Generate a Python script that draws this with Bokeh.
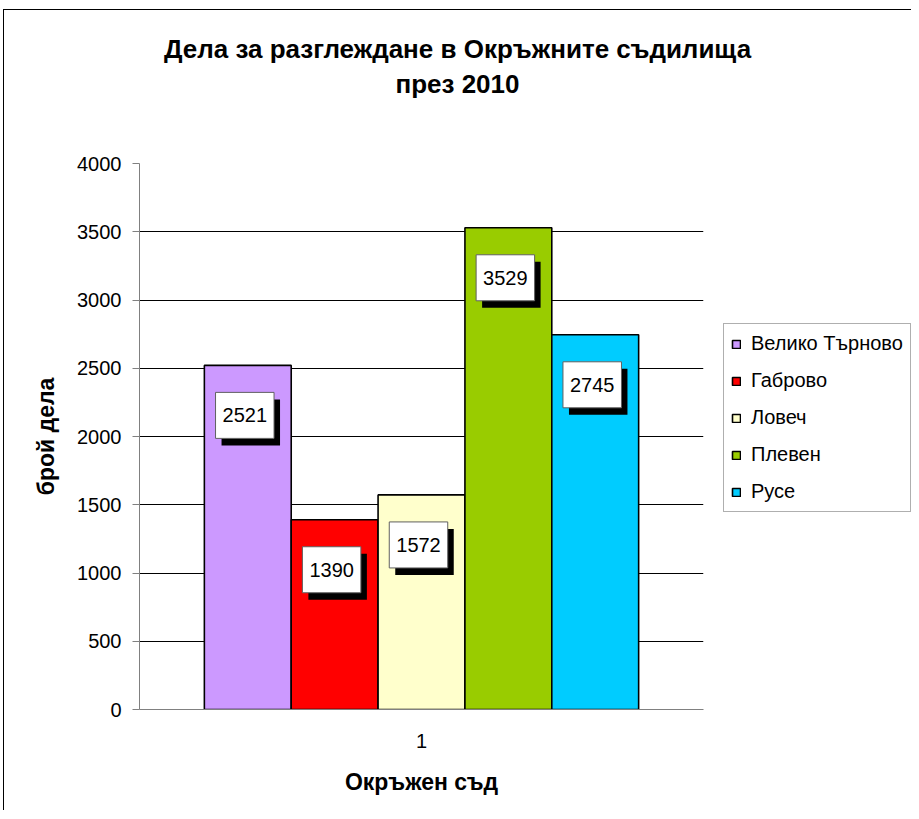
from bokeh.plotting import figure
from bokeh.layouts import row, column
from bokeh.models import (ColumnDataSource, FactorRange, Range1d, CategoricalAxis,
                          FixedTicker, Legend, LegendItem, Div)
from bokeh.transform import dodge
from bokeh.core.properties import value
from bokeh.embed import file_html
from bokeh.resources import INLINE

# ---- data ----
category = ["1"]
courts = ["Велико Търново", "Габрово", "Ловеч", "Плевен", "Русе"]
cases = [2521, 1390, 1572, 3529, 2745]
colors = ["#CC99FF", "#FF0000", "#FFFFCC", "#99CC00", "#00CCFF"]
y_ticks = [0, 500, 1000, 1500, 2000, 2500, 3000, 3500, 4000]
title_line1 = "Дела за разглеждане в Окръжните съдилища"
title_line2 = "през 2010"
x_title = "Окръжен съд"
y_title = "брой дела"

FONT = "Liberation Sans"
W, H = 714, 662          # chart part
WL = 193                 # legend part
HT = 138                 # title band

# ---- title band ----
title_div = Div(
    text=(f'<div style="width:{W + WL}px; padding-top:22px; text-align:center;'
          ' font-family:\'Liberation Sans\'; font-weight:bold; font-size:26px;'
          ' line-height:35px; color:black;">'
          f'{title_line1}<br>{title_line2}</div>'),
    width=W + WL, height=HT, margin=0)

# ---- chart ----
p = figure(width=W, height=H, x_range=FactorRange(factors=category, range_padding=0),
           y_range=Range1d(0, 4000), output_backend="svg", toolbar_location=None,
           x_axis_location=None, min_border_left=135, min_border_right=15,
           min_border_top=15, min_border_bottom=101)
p.outline_line_color = None
p.background_fill_color = "white"
p.border_fill_color = "white"

yax = p.yaxis[0]
yax.ticker = FixedTicker(ticks=y_ticks)
yax.axis_line_color = "#808080"
yax.major_tick_line_color = "#808080"
yax.major_tick_in = 0
yax.major_tick_out = 7
yax.minor_tick_line_color = None
yax.major_label_text_font = FONT
yax.major_label_text_font_size = "20px"
yax.major_label_text_color = "black"
yax.major_label_standoff = 11
yax.axis_label = y_title
yax.axis_label_text_font = FONT
yax.axis_label_text_font_size = "23px"
yax.axis_label_text_font_style = "bold"
yax.axis_label_text_color = "black"
yax.axis_label_standoff = 15

p.ygrid.ticker = FixedTicker(ticks=y_ticks[1:-1])
p.ygrid.grid_line_color = "black"
p.xgrid.visible = False

# x axes: edge ticks (categorical range whose two factors sit on the frame edges) + category label
p.extra_x_ranges = {"edges": FactorRange(factors=["L", "R"], range_padding=-0.5,
                                         range_padding_units="absolute")}
edge_axis = CategoricalAxis(x_range_name="edges",
                            axis_line_color="#808080", major_tick_line_color="#808080",
                            major_tick_in=0, major_tick_out=6,
                            major_label_text_font_size="0px", major_label_standoff=0)
cat_axis = CategoricalAxis(axis_line_color=None, major_tick_line_color=None,
                           major_tick_in=0, major_tick_out=0,
                           major_label_text_font=FONT, major_label_text_font_size="20px",
                           major_label_text_color="black",
                           major_label_standoff=24, axis_label=x_title,
                           axis_label_text_font=FONT, axis_label_text_font_size="23px",
                           axis_label_text_font_style="bold", axis_label_text_color="black",
                           axis_label_standoff=18)
p.add_layout(edge_axis, "below")
p.add_layout(cat_axis, "below")

# ---- legend panel: its own small plot; its bars sit hidden behind the opaque legend box ----
pl = figure(width=WL, height=H, x_range=FactorRange(factors=category, range_padding=0),
            y_range=Range1d(-4600, 7400), output_backend="svg", toolbar_location=None,
            x_axis_location=None, y_axis_location=None, min_border_left=0,
            min_border_right=0, min_border_top=15, min_border_bottom=101)
pl.outline_line_color = None
pl.grid.visible = False
pl.background_fill_color = "white"
pl.border_fill_color = "white"

# bars + labels
w = 0.154
pad = dict(left=7, right=7, top=16, bottom=16)
items = []
for i, (name, val, col) in enumerate(zip(courts, cases, colors)):
    src = ColumnDataSource(dict(x=category, top=[val], label=[str(val)]))
    xs = dodge("x", (i - 2) * w, range=p.x_range)
    p.vbar(x=xs, top="top", bottom=0, width=w, source=src, fill_color=col,
           line_color="black", line_width=1.6)
    p.text(x=xs, y="top", text="label", source=src, x_offset=3, y_offset=57,
           text_align="center", text_baseline="middle", text_font=value(FONT),
           text_font_size="20px", text_color="black", background_fill_color="black",
           padding=pad)
    p.text(x=xs, y="top", text="label", source=src, x_offset=-3, y_offset=50,
           text_align="center", text_baseline="middle", text_font=value(FONT),
           text_font_size="20px", text_color="black", background_fill_color="white",
           border_line_color="#606060", border_line_width=1, padding=pad)
    rl = pl.vbar(x=dodge("x", (i - 2) * w, range=pl.x_range), top="top", bottom=0, width=w,
                 source=src, fill_color=col, line_color="black", line_width=1.6)
    items.append(LegendItem(label=name, renderers=[rl]))

legend = Legend(items=items, location=(5, 197), orientation="vertical",
                label_text_font=FONT, label_text_font_size="20px", label_text_color="black",
                glyph_width=10, glyph_height=10, label_standoff=10,
                padding=7, spacing=12, label_height=25, margin=0,
                border_line_color="#606060", border_line_width=1,
                background_fill_color="white", background_fill_alpha=1)
pl.add_layout(legend, "center")

layout = column(title_div, row(p, pl),
                styles={"border-left": "1px solid black", "border-top": "1px solid black",
                        "margin-left": "3px", "margin-top": "9px", "background": "white"})

open("out.html", "w").write(file_html(layout, INLINE))
